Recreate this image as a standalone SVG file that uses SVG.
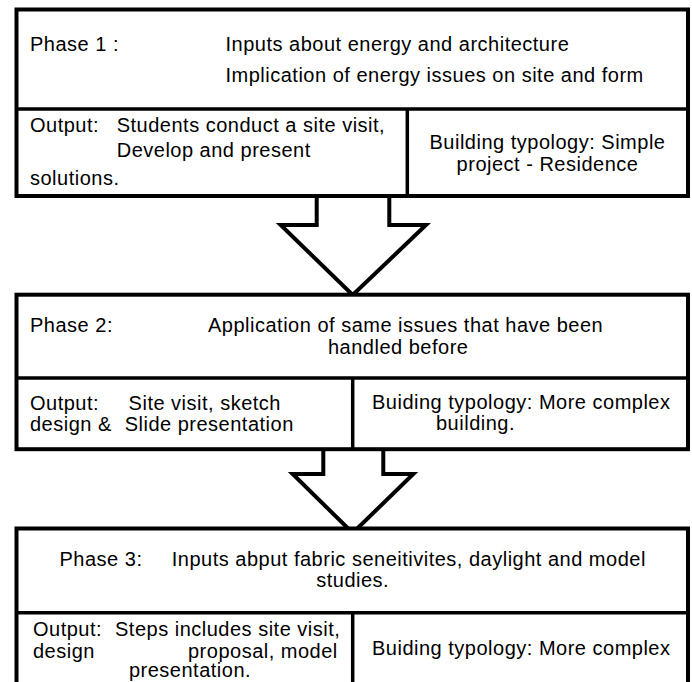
<svg xmlns="http://www.w3.org/2000/svg" width="692" height="682" viewBox="0 0 692 682">
<style>
.box{fill:#fff;stroke:#000;stroke-width:4}
.div{fill:none;stroke:#000;stroke-width:3.5}
.arrow{fill:#fff;stroke:#000;stroke-width:4;stroke-linejoin:miter}
text{font-family:"Liberation Sans",Arial,sans-serif;font-size:20px;letter-spacing:0.5px;fill:#000}
.c{text-anchor:middle}
</style>
<rect x="0" y="0" width="692" height="682" fill="#fff"/>
<g id="connectors">
<polyline class="arrow" points="316.7,196 316.7,225 280.7,225 352.7,295 426,225 389.3,225 389.3,196"/>
<polyline class="arrow" points="323.3,449 323.3,474 292.7,474 352.7,533 413.3,474 383.3,474 383.3,449"/>
</g>
<g id="phase1">
<rect class="box" x="16.5" y="9.5" width="671.5" height="186.5"/>
<line class="div" x1="16.5" y1="109" x2="688" y2="109"/>
<line class="div" x1="407.3" y1="109" x2="407.3" y2="196"/>
<text x="30" y="50.5">Phase 1 :</text>
<text x="225.5" y="50.5">Inputs about energy and architecture</text>
<text x="225.5" y="81.7">Implication of energy issues on site and form</text>
<text x="30" y="131.5">Output:</text>
<text x="116.7" y="131.5">Students conduct a site visit,</text>
<text x="116.7" y="157">Develop and present</text>
<text x="30" y="185">solutions.</text>
<text class="c" x="547.5" y="149">Building typology: Simple</text>
<text class="c" x="547.5" y="171">project - Residence</text>
</g>
<g id="phase2">
<rect class="box" x="16.5" y="294.7" width="671.5" height="154.5"/>
<line class="div" x1="16.5" y1="378" x2="688" y2="378"/>
<line class="div" x1="352.7" y1="378" x2="352.7" y2="449"/>
<text x="30" y="332">Phase 2:</text>
<text x="208" y="332">Application of same issues that have been</text>
<text x="328" y="353.5">handled before</text>
<text x="30" y="410">Output:</text>
<text x="128.6" y="410">Site visit, sketch</text>
<text x="30" y="431">design &amp;</text>
<text x="124.7" y="431">Slide presentation</text>
<text x="372" y="409">Buiding typology: More complex</text>
<text x="436" y="430">building.</text>
</g>
<g id="phase3">
<path class="box" d="M16.5,690 V528.5 H688 V690"/>
<line class="div" x1="16.5" y1="612.7" x2="688" y2="612.7"/>
<line class="div" x1="352.7" y1="612.7" x2="352.7" y2="690"/>
<text x="59.5" y="566">Phase 3:</text>
<text x="171.8" y="566">Inputs abput fabric seneitivites, daylight and model</text>
<text class="c" x="352.7" y="587">studies.</text>
<text x="33" y="636">Output:</text>
<text x="115" y="636">Steps includes site visit,</text>
<text x="33" y="658">design</text>
<text x="188" y="658">proposal, model</text>
<text class="c" x="190" y="677">presentation.</text>
<text x="372" y="655">Buiding typology: More complex</text>
</g>
</svg>
